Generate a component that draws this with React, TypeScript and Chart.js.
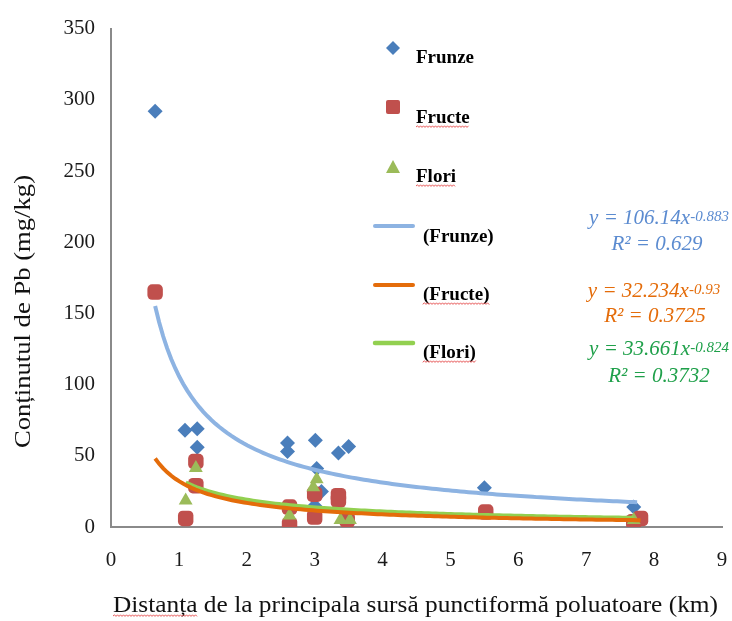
import React, { useEffect, useRef } from "react";
import { Chart, registerables } from "chart.js";

Chart.register(...registerables);

// Measured lead content per plant part vs. distance from the point source
const frunzeX = [0.65, 1.09, 1.27, 1.27, 2.6, 2.6, 3.01, 3.03, 3.1, 3.0, 3.35, 3.5, 5.5, 7.7];
const frunzeY = [292, 68, 69, 56, 59, 53, 61, 41, 25, 15, 52, 56.5, 27.5, 14];

const fructeX = [0.65, 1.1, 1.25, 1.25, 2.63, 2.63, 3.0, 3.0, 3.35, 3.35, 3.48, 5.52, 7.7, 7.8];
const fructeY = [165, 6, 46, 29, 14, 1.5, 23, 7, 22, 19, 5, 10.5, 3.7, 6];

const floriX = [1.1, 1.25, 2.63, 3.03, 2.98, 3.38, 3.52, 7.7];
const floriY = [18.6, 41.5, 8, 33.5, 28, 5, 5, 5];

// Power trendlines y = a * x^b (coefficients as printed next to the legend)
const fitNames = ["Frunze", "Fructe", "Flori"];
const fitA = [106.14, 32.234, 33.661];
const fitB = [-0.883, -0.93, -0.824];
const fitR2 = ["0.629", "0.3725", "0.3732"];
const fitXMin = [0.65, 0.65, 1.1];
const fitXMax = [7.75, 7.8, 7.7];

const yTicks = [0, 50, 100, 150, 200, 250, 300, 350];
const xTicks = [0, 1, 2, 3, 4, 5, 6, 7, 8, 9];

const COL_FRUNZE = "#4a7ebb";
const COL_FRUCTE = "#c0504d";
const COL_FLORI = "#9bbb59";
const LINE_COLS = ["#8db3e2", "#e46c0a", "#92d050"];
const EQ_COLS = ["#5b8bd0", "#e46c0a", "#1fa04a"];

const SERIF = "'Liberation Serif', 'Times New Roman', serif";

function toPoints(xs: number[], ys: number[]) {
  return xs.map((x, i) => ({ x, y: ys[i] }));
}

function trendPoints(i: number) {
  const pts: { x: number; y: number }[] = [];
  const n = 120;
  for (let k = 0; k <= n; k++) {
    const x = fitXMin[i] + ((fitXMax[i] - fitXMin[i]) * k) / n;
    pts.push({ x, y: fitA[i] * Math.pow(x, fitB[i]) });
  }
  return pts;
}

function wavy(ctx: CanvasRenderingContext2D, x0: number, x1: number, y: number) {
  ctx.save();
  ctx.strokeStyle = "#e03030";
  ctx.lineWidth = 0.8;
  ctx.beginPath();
  let up = true;
  ctx.moveTo(x0, y);
  for (let x = x0 + 1.5; x <= x1; x += 1.5) {
    ctx.lineTo(x, up ? y - 1.2 : y + 0.4);
    up = !up;
  }
  ctx.stroke();
  ctx.restore();
}

// Draws text left-aligned at (x, y) stretched along its run to a given length
function fitText(ctx: CanvasRenderingContext2D, text: string, x: number, y: number, len: number) {
  const w = ctx.measureText(text).width;
  ctx.save();
  ctx.translate(x, y);
  ctx.scale(len / w, 1);
  ctx.textAlign = "left";
  ctx.fillText(text, 0, 0);
  ctx.restore();
}

const overlayPlugin = {
  id: "overlay",
  afterDraw(chart: any) {
    const ctx: CanvasRenderingContext2D = chart.ctx;
    ctx.save();

    // Axis titles
    ctx.fillStyle = "#111";
    ctx.textBaseline = "alphabetic";
    ctx.font = `23px ${SERIF}`;
    const xTitle = "Distanța de la principala sursă punctiformă poluatoare (km)";
    const xLen = 605;
    const scaleX = xLen / ctx.measureText(xTitle).width;
    fitText(ctx, xTitle, 113, 612, xLen);
    const dw = ctx.measureText("Distanța").width * scaleX;
    wavy(ctx, 113, 113 + dw, 616);

    ctx.save();
    ctx.translate(30, 448);
    ctx.rotate(-Math.PI / 2);
    ctx.font = `24px ${SERIF}`;
    fitText(ctx, "Conținutul de Pb (mg/kg)", 0, 0, 273);
    ctx.restore();

    // Legend: markers
    const mx = 393;
    ctx.fillStyle = COL_FRUNZE;
    ctx.beginPath();
    ctx.moveTo(mx, 41);
    ctx.lineTo(mx + 7, 48);
    ctx.lineTo(mx, 55);
    ctx.lineTo(mx - 7, 48);
    ctx.closePath();
    ctx.fill();

    ctx.fillStyle = COL_FRUCTE;
    ctx.beginPath();
    (ctx as any).roundRect(mx - 7, 100, 14, 14, 2);
    ctx.fill();

    ctx.fillStyle = COL_FLORI;
    ctx.beginPath();
    ctx.moveTo(mx, 160);
    ctx.lineTo(mx + 7, 173);
    ctx.lineTo(mx - 7, 173);
    ctx.closePath();
    ctx.fill();

    ctx.font = `bold 19px ${SERIF}`;
    ctx.fillStyle = "#000";
    ctx.textAlign = "left";
    ctx.fillText("Frunze", 416, 63);
    ctx.fillText("Fructe", 416, 123);
    wavy(ctx, 416, 416 + ctx.measureText("Fructe").width, 127);
    ctx.fillText("Flori", 416, 182);
    wavy(ctx, 416, 416 + ctx.measureText("Flori").width, 186);

    // Legend: trendlines
    const lineYs = [226, 285, 343];
    const labBase = [242, 300, 358];
    const lineW = [4, 4, 4.5];
    for (let i = 0; i < 3; i++) {
      ctx.strokeStyle = LINE_COLS[i];
      ctx.lineWidth = lineW[i];
      ctx.lineCap = "round";
      ctx.beginPath();
      ctx.moveTo(375, lineYs[i]);
      ctx.lineTo(413, lineYs[i]);
      ctx.stroke();
      const lab = "(" + fitNames[i] + ")";
      ctx.fillStyle = "#000";
      ctx.fillText(lab, 423, labBase[i]);
      if (i > 0) wavy(ctx, 423, 423 + ctx.measureText(lab).width, labBase[i] + 4);
    }

    // Trendline equations
    const eqBase = [224, 297, 355];
    const r2Base = [250, 322, 382];
    const eqCx = [659, 654, 659];
    const r2Cx = [657, 655, 659];
    const big = `italic 21px ${SERIF}`;
    const small = `italic 15px ${SERIF}`;
    for (let i = 0; i < 3; i++) {
      ctx.fillStyle = EQ_COLS[i];
      const main = "y = " + fitA[i] + "x";
      const exp = "-" + Math.abs(fitB[i]);
      ctx.font = big;
      const wMain = ctx.measureText(main).width;
      ctx.font = small;
      const wExp = ctx.measureText(exp).width;
      const x0 = eqCx[i] - (wMain + wExp) / 2;
      ctx.font = big;
      ctx.textAlign = "left";
      ctx.fillText(main, x0, eqBase[i]);
      ctx.font = small;
      ctx.fillText(exp, x0 + wMain, eqBase[i] - 3);
      ctx.font = big;
      ctx.textAlign = "center";
      ctx.fillText("R² = " + fitR2[i], r2Cx[i], r2Base[i]);
    }

    ctx.restore();
  },
};

export default function App() {
  const ref = useRef<HTMLCanvasElement | null>(null);

  useEffect(() => {
    if (!ref.current) return;
    const trendSets = [0, 1, 2].map((i) => ({
      type: "line" as const,
      label: "(" + fitNames[i] + ")",
      data: trendPoints(i),
      borderColor: LINE_COLS[i],
      borderWidth: i === 2 ? 4.5 : 4,
      pointRadius: 0,
      fill: false,
      tension: 0,
      order: i,
    }));
    const chart = new Chart(ref.current, {
      type: "scatter",
      data: {
        datasets: [
          ...trendSets,
          {
            label: "Flori",
            data: toPoints(floriX, floriY),
            pointStyle: "triangle",
            pointRadius: 8,
            backgroundColor: COL_FLORI,
            borderColor: COL_FLORI,
            borderWidth: 0,
            order: 3,
          },
          {
            label: "Fructe",
            data: toPoints(fructeX, fructeY),
            pointStyle: "rectRounded",
            pointRadius: 9,
            backgroundColor: COL_FRUCTE,
            borderColor: COL_FRUCTE,
            borderWidth: 0,
            order: 4,
          },
          {
            label: "Frunze",
            data: toPoints(frunzeX, frunzeY),
            pointStyle: "rectRot",
            pointRadius: 7.5,
            backgroundColor: COL_FRUNZE,
            borderColor: COL_FRUNZE,
            borderWidth: 0,
            order: 5,
          },
        ] as any,
      },
      options: {
        animation: false,
        responsive: false,
        layout: { padding: { left: 0, top: 18, right: 10, bottom: 0 } },
        plugins: {
          legend: { display: false },
          tooltip: { enabled: false },
        },
        scales: {
          x: {
            type: "linear",
            min: 0,
            max: 9,
            afterBuildTicks: (s: any) => {
              s.ticks = xTicks.map((v) => ({ value: v }));
            },
            afterFit: (s: any) => {
              s.height = 94;
            },
            grid: { display: false, drawTicks: false },
            border: { display: true, color: "#8a8a8a", width: 2 },
            ticks: {
              padding: 0,
              color: "#1a1a1a",
              font: { family: SERIF, size: 21, lineHeight: 3.2 },
            },
          },
          y: {
            type: "linear",
            min: 0,
            max: 350,
            afterBuildTicks: (s: any) => {
              s.ticks = yTicks.map((v) => ({ value: v }));
            },
            afterFit: (s: any) => {
              s.width = 111;
            },
            grid: { display: false, drawTicks: false },
            border: { display: true, color: "#8a8a8a", width: 2 },
            ticks: {
              padding: 16,
              color: "#1a1a1a",
              font: { family: SERIF, size: 21 },
            },
          },
        },
      },
      plugins: [overlayPlugin],
    } as any);
    return () => chart.destroy();
  }, []);

  return (
    <div style={{ position: "absolute", left: 0, top: 0, width: 732, height: 621, background: "#fff" }}>
      <canvas ref={ref} width={732} height={621} style={{ width: 732, height: 621 }} />
    </div>
  );
}
